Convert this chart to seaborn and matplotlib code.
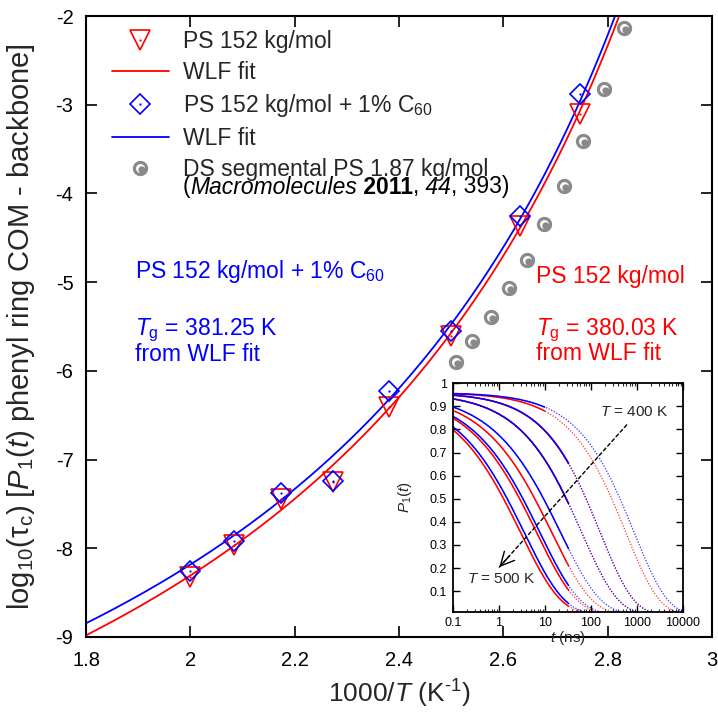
import numpy as np
import pandas as pd
import matplotlib
matplotlib.use("Agg")
import matplotlib.pyplot as plt
import seaborn as sns
from matplotlib.path import Path
from matplotlib.lines import Line2D
from matplotlib.ticker import LogLocator, NullFormatter
from matplotlib.offsetbox import TextArea, HPacker, AnchoredOffsetbox

# ---------------- data ----------------
inv_T = [2.000, 2.083, 2.174, 2.273, 2.381, 2.500, 2.632, 2.747]
logtau_ps = [-8.32, -7.96, -7.45, -7.25, -6.41, -5.61, -4.37, -3.10]
logtau_c60 = [-8.26, -7.92, -7.38, -7.24, -6.23, -5.55, -4.25, -2.88]

ds_invT = [2.509, 2.540, 2.576, 2.611, 2.645, 2.678, 2.716, 2.753, 2.793, 2.831]
ds_logtau = [-5.90, -5.66, -5.39, -5.07, -4.75, -4.34, -3.92, -3.41, -2.82, -2.13]

# WLF (VFT form) fit parameters: log10 tau = A + B / (T - T0)
wlf_ps = [-11.70, 760.0, 276.0]
wlf_c60 = [-11.49, 734.0, 278.0]

# inset: KWW fits P1(t) = amp * exp(-(t/tau)^beta), T = 400 ... 500 K
inset_T = [400, 420, 440, 460, 480, 500]
kww_amp = [0.96, 0.96, 0.96, 0.96, 0.96, 0.96]
kww_tau_ps = [584.0, 160.0, 64.0, 14.3, 6.7, 3.0]
kww_tau_c60 = [885.0, 163.0, 64.0, 22.2, 7.9, 3.6]
kww_beta = [0.60, 0.60, 0.55, 0.50, 0.50, 0.50]
sim_end_ns = [10.0, 33.0, 33.0, 33.0, 33.0, 33.0]

x_ticks = [1.8, 2.0, 2.2, 2.4, 2.6, 2.8, 3.0]
x_ticklabels = ["1.8", "2", "2.2", "2.4", "2.6", "2.8", "3"]
y_ticks = [-9, -8, -7, -6, -5, -4, -3, -2]
inset_xticks = [0.1, 1, 10, 100, 1000, 10000]
inset_xlabels = ["0.1", "1", "10", "100", "1000", "10000"]
inset_yticks = [0.1, 0.2, 0.3, 0.4, 0.5, 0.6, 0.7, 0.8, 0.9, 1.0]
inset_ylabels = ["0.1", "0.2", "0.3", "0.4", "0.5", "0.6", "0.7", "0.8", "0.9", "1"]

# ---------------- style ----------------
sns.set_theme(style="ticks")
plt.rcParams["font.family"] = ["Liberation Sans", "DejaVu Sans"]
plt.rcParams["mathtext.fontset"] = "custom"
plt.rcParams["mathtext.rm"] = "Liberation Sans"
plt.rcParams["mathtext.it"] = "Liberation Sans:italic"
plt.rcParams["mathtext.bf"] = "Liberation Sans:bold"
plt.rcParams["axes.unicode_minus"] = False

RED = "#ff0000"
BLUE = "#0000ff"
GRAY = "#8a8a8a"
FS = 16.5

fig = plt.figure(figsize=(7.18, 7.13), dpi=100)
ax = fig.add_axes([86 / 718, 1 - 637 / 713, 626 / 718, 621 / 713])
ax.set_facecolor("white")


def circle(cx, cy, r, reverse=False, n=72):
    th = np.linspace(0, 2 * np.pi, n)
    if reverse:
        th = th[::-1]
    return Path(np.column_stack([cx + r * np.cos(th), cy + r * np.sin(th)]), closed=True)


ds_marker = Path.make_compound_path(circle(0, 0, 1.0), circle(0, 0, 0.58, reverse=True),
                                    circle(0.17, -0.17, 0.45))

# WLF fit curves
xg = np.linspace(1.8, 2.86, 500)
for (A, B, T0), col in [(wlf_ps, RED), (wlf_c60, BLUE)]:
    yg = A + B / (1000.0 / xg - T0)
    sns.lineplot(x=xg, y=yg, color=col, lw=1.3, ax=ax, sort=False, estimator=None)

df_main = pd.DataFrame({"x": inv_T, "ps": logtau_ps, "c60": logtau_c60})
df_ds = pd.DataFrame({"x": ds_invT, "y": ds_logtau})

sns.lineplot(data=df_ds, x="x", y="y", ax=ax, linestyle="", marker=ds_marker, ms=11,
             color=GRAY, mec="none", estimator=None, sort=False)
sns.lineplot(data=df_main, x="x", y="ps", ax=ax, linestyle="", marker="v", ms=15,
             mfc="none", mec=RED, mew=1.2, color=RED, estimator=None, sort=False)
sns.lineplot(data=df_main, x="x", y="ps", ax=ax, linestyle="", marker="o", ms=1.6,
             mfc=RED, mec=RED, mew=0, color=RED, estimator=None, sort=False)
sns.lineplot(data=df_main, x="x", y="c60", ax=ax, linestyle="", marker="D", ms=10.5,
             mfc="none", mec=BLUE, mew=1.2, color=BLUE, estimator=None, sort=False)
sns.lineplot(data=df_main, x="x", y="c60", ax=ax, linestyle="", marker="o", ms=1.6,
             mfc=BLUE, mec=BLUE, mew=0, color=BLUE, estimator=None, sort=False)

ax.set_xlim(1.8, 3.0)
ax.set_ylim(-9, -2)
ax.set_xticks(x_ticks)
ax.set_xticklabels(x_ticklabels)
ax.set_yticks(y_ticks)
ax.set_yticklabels([str(v) for v in y_ticks])
ax.tick_params(direction="in", length=8, width=1.2, top=True, right=True,
               labelsize=14.5, colors="black")
ax.tick_params(axis="x", pad=10)
ax.tick_params(axis="y", pad=9)
for s in ax.spines.values():
    s.set_linewidth(1.5)
    s.set_color("black")

ax.set_xlabel("1000/$T$ (K$^{\u20101}$)", fontsize=19)
ax.set_ylabel("log$_{10}$(τ$_\\mathrm{c}$) [$P_1(t)$ phenyl ring COM - backbone]", fontsize=21)
ax.xaxis.set_label_coords(0.5, -0.066)
ax.yaxis.set_label_coords(-0.078, 0.5)

# legend
h1 = Line2D([], [], ls="none", marker="v", ms=15, mfc="none", mec=RED, mew=1.2)
d1 = Line2D([], [], ls="none", marker="o", ms=1.6, mfc=RED, mec=RED, mew=0)
h2 = Line2D([], [], color=RED, lw=1.3)
h3 = Line2D([], [], ls="none", marker="D", ms=10.5, mfc="none", mec=BLUE, mew=1.2)
d3 = Line2D([], [], ls="none", marker="o", ms=1.6, mfc=BLUE, mec=BLUE, mew=0)
h4 = Line2D([], [], color=BLUE, lw=1.3)
h5 = Line2D([], [], ls="none", marker=ds_marker, ms=11, color=GRAY, mec="none")
labels = ["PS 152 kg/mol", "WLF fit", "PS 152 kg/mol + 1% C$_{60}$", "WLF fit",
          "DS segmental PS 1.87 kg/mol"]
leg = ax.legend([(h1, d1), h2, (h3, d3), h4, h5], labels, loc="upper left",
                bbox_to_anchor=(0.041, 0.978), frameon=False, fontsize=FS,
                handlelength=2.51, handletextpad=0.585, borderpad=0, borderaxespad=0,
                labelspacing=0.35)

# second line of the DS entry with mixed italic / bold pieces
base = dict(fontsize=FS, color="black", family=["Liberation Sans", "DejaVu Sans"])
pieces = [("(", {}), ("Macromolecules", {"style": "italic"}), (" 2011", {"weight": "bold"}),
          (",", {}), (" 44", {"style": "italic"}), (", 393)", {})]
hp = HPacker(children=[TextArea(txt, textprops={**base, **extra}) for txt, extra in pieces],
             pad=0, sep=0, align="baseline")
ab = AnchoredOffsetbox(loc="center left", child=hp, pad=0, borderpad=0, frameon=False,
                       bbox_to_anchor=(0.1545, 1 - (187 - 16) / 621),
                       bbox_transform=ax.transAxes)
ax.add_artist(ab)

# annotations
ax.text(1.894, -4.954, "PS 152 kg/mol + 1% C$_{60}$", color=BLUE, fontsize=FS, va="baseline")
ax.text(1.894, -5.596, "$T_\\mathrm{g}$ = 381.25 K", color=BLUE, fontsize=FS, va="baseline")
ax.text(1.894, -5.890, "from WLF fit", color=BLUE, fontsize=FS, va="baseline")
ax.text(2.663, -5.010, "PS 152 kg/mol", color=RED, fontsize=FS, va="baseline")
ax.text(2.663, -5.596, "$T_\\mathrm{g}$ = 380.03 K", color=RED, fontsize=FS, va="baseline")
ax.text(2.663, -5.875, "from WLF fit", color=RED, fontsize=FS, va="baseline")

# ---------------- inset ----------------
axin = fig.add_axes([452.7 / 718, 1 - 611.7 / 713, 230 / 718, 228.4 / 713])
axin.set_facecolor("white")
axin.set_xscale("log")

tg_full = np.logspace(-1, 4, 600)
curves = []
for i in range(len(inset_T)):
    for taus, col in [(kww_tau_ps, RED), (kww_tau_c60, BLUE)]:
        curves.append((kww_amp[i], taus[i], kww_beta[i], sim_end_ns[i], col))

for amp, tau, beta, tend, col in curves:
    p = amp * np.exp(-(tg_full / tau) ** beta)
    sns.lineplot(x=tg_full, y=p, ax=axin, color=col, lw=0.9, alpha=0.8,
                 linestyle=(0, (1, 1.3)), sort=False, estimator=None)
for amp, tau, beta, tend, col in sorted(curves, key=lambda c: c[4] == BLUE):
    ts = np.logspace(-1, np.log10(tend), 300)
    p = amp * np.exp(-(ts / tau) ** beta)
    sns.lineplot(x=ts, y=p, ax=axin, color=col, lw=1.1, sort=False, estimator=None)

axin.set_xlim(0.1, 10000)
axin.set_ylim(0.011, 1.0)
axin.set_xticks(inset_xticks)
axin.set_xticklabels(inset_xlabels)
axin.xaxis.set_minor_locator(LogLocator(base=10, subs=np.arange(2, 10), numticks=20))
axin.xaxis.set_minor_formatter(NullFormatter())
axin.set_yticks(inset_yticks)
axin.set_yticklabels(inset_ylabels)
axin.tick_params(which="major", direction="in", length=5, width=1.0, top=True, right=True,
                 labelsize=9, pad=4, colors="black")
axin.tick_params(which="minor", direction="in", length=2.5, width=0.8, top=True, right=True)
for s in axin.spines.values():
    s.set_linewidth(1.3)
    s.set_color("black")

axin.set_xlabel("$t$ (ns)", fontsize=11)
axin.set_ylabel("$P_1(t)$", fontsize=11)
axin.xaxis.set_label_coords(0.5, -0.075)
axin.yaxis.set_label_coords(-0.17, 0.5)

axin.text(4786, 0.877, "$T$ = 400 K", fontsize=11, ha="right", va="center")
axin.text(0.201, 0.153, "$T$ = 500 K", fontsize=11, ha="left", va="center")
axin.annotate("", xy=(1.03, 0.204), xytext=(606, 0.82),
              arrowprops=dict(arrowstyle="-", ls=(0, (2.5, 2)), lw=1.0, color="black",
                              shrinkA=0, shrinkB=0))
axin.annotate("", xy=(1.03, 0.204), xytext=(1.716, 0.253),
              arrowprops=dict(arrowstyle="->,head_length=0.7,head_width=0.35", lw=1.0,
                              color="black", shrinkA=0, shrinkB=0, mutation_scale=14))

fig.savefig("out.png", dpi=100, facecolor="white")
